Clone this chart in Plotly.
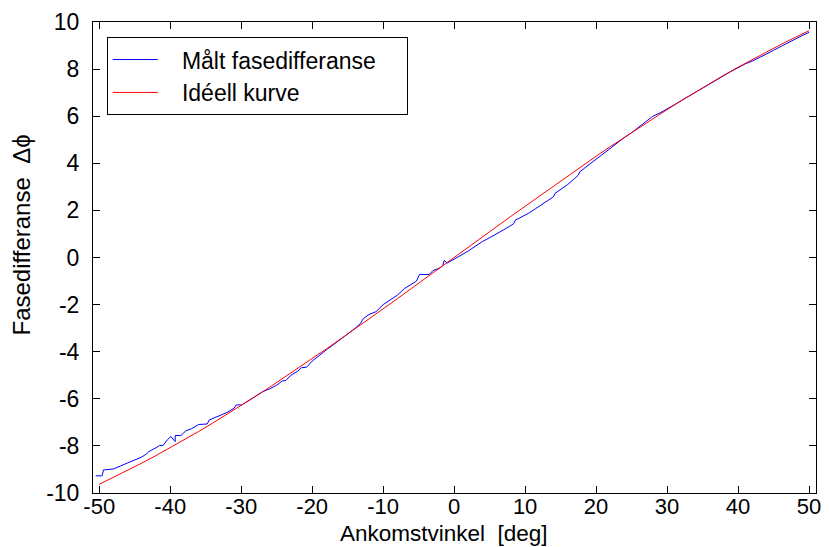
import plotly.graph_objects as go

# Ideal curve
ideal_x = [-50, -48, -46, -44, -42, -40, -38, -36, -34, -32, -30, -28, -26, -24, -22, -20,
           -18, -16, -14, -12, -10, -8, -6, -4, -2, 0, 2, 4, 6, 8, 10, 12, 14, 16, 18, 20,
           22, 24, 26, 28, 30, 32, 34, 36, 38, 40, 42, 44, 46, 48, 50]
ideal_y = [-9.63, -9.34, -9.04, -8.73, -8.41, -8.08, -7.74, -7.39, -7.03, -6.66, -6.28, -5.90,
           -5.51, -5.11, -4.71, -4.30, -3.88, -3.46, -3.04, -2.61, -2.18, -1.75, -1.31, -0.88,
           -0.44, 0.00, 0.44, 0.88, 1.31, 1.75, 2.18, 2.61, 3.04, 3.46, 3.88, 4.30, 4.71, 5.11,
           5.51, 5.90, 6.28, 6.66, 7.03, 7.39, 7.74, 8.08, 8.41, 8.73, 9.04, 9.34, 9.63]

meas_x = [-50.5, -49.6, -49.4, -48.0, -47.0, -46.0, -45.0, -44.0, -43.4, -43.0, -42.0, -41.5,
          -41.0, -40.4, -39.9, -39.3, -39.3, -38.5, -37.8, -37.0, -36.0, -34.8, -34.5, -33.0,
          -32.0, -31.0, -30.7, -29.9, -29.0, -28.0, -27.0, -26.0, -25.0, -24.2, -23.7, -23.0,
          -22.0, -21.5, -20.8, -20.0, -19.0, -18.0, -17.0, -16.0, -15.0, -14.0, -13.2, -12.8,
          -12.0, -11.0, -10.0, -9.0, -8.0, -7.0, -6.0, -5.3, -4.9, -3.5, -3.0, -2.0, -1.6,
          -1.4, -1.0, 0.0, 1.0, 2.0, 3.0, 4.0, 5.0, 6.0, 7.0, 8.0, 8.4, 8.6, 9.5, 10.5, 11.5,
          12.5, 13.5, 14.0, 14.2, 15.0, 16.0, 17.0, 17.5, 17.7, 19.0, 20.0, 21.0, 22.0, 23.0,
          24.0, 25.0, 26.0, 27.0, 28.0, 29.0, 30.0, 31.0, 32.0, 33.0, 34.0, 35.0, 36.0, 37.0,
          38.0, 39.0, 40.0, 41.0, 42.0, 43.0, 44.0, 45.0, 46.0, 47.0, 48.0, 49.0, 50.0]
meas_y = [-9.27, -9.27, -9.02, -8.98, -8.85, -8.72, -8.60, -8.47, -8.35, -8.24, -8.08, -7.98,
          -7.98, -7.74, -7.60, -7.82, -7.56, -7.56, -7.36, -7.27, -7.09, -7.07, -6.90, -6.72,
          -6.58, -6.40, -6.26, -6.26, -6.08, -5.88, -5.70, -5.58, -5.42, -5.24, -5.22, -5.00,
          -4.82, -4.68, -4.66, -4.40, -4.14, -3.92, -3.70, -3.48, -3.24, -3.02, -2.80, -2.60,
          -2.42, -2.30, -2.00, -1.80, -1.60, -1.32, -1.14, -1.00, -0.72, -0.72, -0.56, -0.44,
          -0.34, -0.12, -0.24, -0.08, 0.10, 0.28, 0.48, 0.68, 0.84, 1.00, 1.18, 1.36, 1.44,
          1.58, 1.72, 1.88, 2.08, 2.28, 2.48, 2.58, 2.72, 2.88, 3.10, 3.36, 3.50, 3.64, 3.94,
          4.18, 4.42, 4.64, 4.88, 5.10, 5.30, 5.54, 5.76, 6.00, 6.14, 6.30, 6.48, 6.66, 6.84,
          7.02, 7.20, 7.38, 7.56, 7.72, 7.90, 8.06, 8.22, 8.34, 8.48, 8.64, 8.80, 8.96, 9.12,
          9.26, 9.42, 9.56]

x_ticks = [-50, -40, -30, -20, -10, 0, 10, 20, 30, 40, 50]
x_tick_text = ["-50", "-40", "-30", "-20", "-10", "0", "10", "20", "30", "40", "50"]
y_ticks = [-10, -8, -6, -4, -2, 0, 2, 4, 6, 8, 10]
y_tick_text = ["-10", "-8", "-6", "-4", "-2", "0", "2", "4", "6", "8", "10"]

FONT = "Arial, 'Liberation Sans', sans-serif"
NB = "\u00a0"

fig = go.Figure()
fig.add_trace(go.Scatter(x=meas_x, y=meas_y, mode="lines",
                         name=NB * 3 + "Målt fasedifferanse" + NB * 4,
                         line=dict(color="#0000FF", width=1), legendgroup="a"))
fig.add_trace(go.Scatter(x=ideal_x, y=ideal_y, mode="lines",
                         name=NB * 3 + "Idéell kurve",
                         line=dict(color="#FF0000", width=1), legendgroup="b"))

axis_common = dict(showgrid=False, zeroline=False, showline=True, linecolor="black",
                   linewidth=1, mirror="ticks", ticks="inside", ticklen=7, tickcolor="black")

fig.update_layout(
    width=829, height=547,
    margin=dict(l=93, r=8, t=22, b=54),
    paper_bgcolor="white", plot_bgcolor="white",
    font=dict(family=FONT, color="black"),
    xaxis=dict(range=[-50.88, 50.98], tickvals=x_ticks, ticktext=x_tick_text,
               ticklabelstandoff=-6, tickfont=dict(family=FONT, size=22, color="black"),
               **axis_common),
    yaxis=dict(range=[-10, 10], tickvals=y_ticks, ticktext=y_tick_text,
               ticklabelstandoff=8, tickfont=dict(family=FONT, size=23, color="black"),
               **axis_common),
    legend=dict(x=0.019, y=0.968, xanchor="left", yanchor="top",
                bgcolor="white", bordercolor="black", borderwidth=1,
                font=dict(family=FONT, size=23, color="black"),
                traceorder="grouped", tracegroupgap=0, itemwidth=45),
    showlegend=True,
    annotations=[
        dict(text="Ankomstvinkel" + NB * 2 + "[deg]", xref="paper", yref="paper",
             x=(446 - 93) / 728, y=-(533.5 - 493) / 471, xanchor="center", yanchor="middle",
             showarrow=False, font=dict(family=FONT, size=22.5, color="black")),
        dict(text="Fasedifferanse" + NB * 2 + "Δϕ", xref="paper", yref="paper",
             x=(20 - 93) / 728, y=0.5 + (257.5 - 235) / 471, xanchor="center",
             yanchor="middle", textangle=-90, showarrow=False,
             font=dict(family=FONT, size=24, color="black")),
    ],
)

fig.write_html("out.html")
